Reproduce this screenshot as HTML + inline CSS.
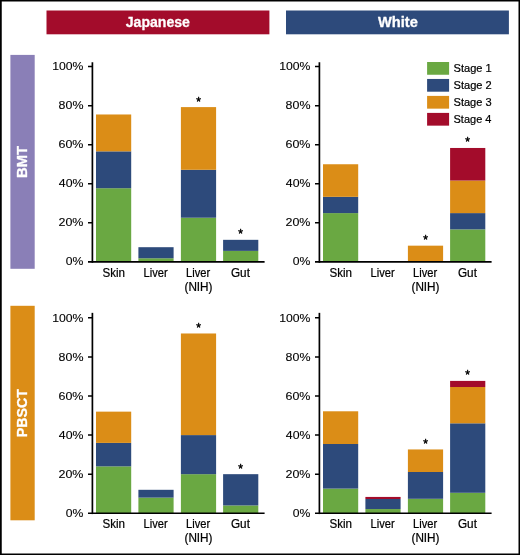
<!DOCTYPE html>
<html lang="en"><head><meta charset="utf-8"><title>Figure</title>
<style>
html,body{margin:0;padding:0;background:#fff;}
body{width:520px;height:555px;overflow:hidden;}
svg{display:block;}
text{font-family:"Liberation Sans",Arial,Helvetica,sans-serif;}
.t{fill:#000;stroke:#000;stroke-width:0.22px;stroke-linejoin:round;}
.k{fill:#000;stroke:#000;stroke-width:0.1px;stroke-linejoin:round;}
.s{fill:#000;stroke:#000;stroke-width:0.45px;stroke-linejoin:round;}
.h{font-weight:bold;fill:#fff;stroke:#fff;stroke-width:0.3px;stroke-linejoin:round;}
</style></head><body>
<svg width="520" height="555" viewBox="0 0 520 555">
<rect x="0" y="0" width="520" height="555" fill="#fff"/>
<path fill="#000" fill-rule="evenodd" d="M0 0H520V555H0Z M1.75 1.6V553.4H518.5V1.6Z"/>
<rect x="46.5" y="10.5" width="222.9" height="23.8" fill="#A30C2B"/>
<rect x="286" y="10.5" width="222.9" height="23.8" fill="#2D4A7B"/>
<text class="h" font-size="14.6" transform="translate(125.79 27.3) scale(0.9646 1)">Japanese</text>
<text class="h" font-size="14.6" transform="translate(377.99 27.3) scale(1.0018 1)">White</text>
<rect x="10.4" y="54.9" width="24.3" height="213.9" fill="#8A7FB7"/>
<rect x="10.4" y="305.8" width="24.3" height="214.5" fill="#DB8D17"/>
<text class="h" font-size="14.6" transform="translate(27.1 177.98) rotate(-90) scale(1.0159 1)">BMT</text>
<text class="h" font-size="14.6" transform="translate(27.1 437.34) rotate(-90) scale(0.9758 1)">PBSCT</text>
<g>
<rect x="96" y="188.21" width="35.2" height="73.74" fill="#6AA842"/>
<rect x="96" y="151.35" width="35.2" height="36.87" fill="#2D4A7B"/>
<rect x="96" y="114.48" width="35.2" height="36.87" fill="#DB8D17"/>
<rect x="138.4" y="258.26" width="35.2" height="3.69" fill="#6AA842"/>
<rect x="138.4" y="247.2" width="35.2" height="11.06" fill="#2D4A7B"/>
<rect x="180.9" y="217.71" width="35.2" height="44.24" fill="#6AA842"/>
<rect x="180.9" y="169.78" width="35.2" height="47.93" fill="#2D4A7B"/>
<rect x="180.9" y="107.1" width="35.2" height="62.68" fill="#DB8D17"/>
<text class="s" font-size="12" x="196.16" y="105.55">*</text>
<rect x="223.1" y="250.89" width="35.2" height="11.06" fill="#6AA842"/>
<rect x="223.1" y="239.83" width="35.2" height="11.06" fill="#2D4A7B"/>
<text class="s" font-size="12" x="238.36" y="238.28">*</text>
<path fill="none" stroke="#000" stroke-width="1.7" d="M92.4 62.25V262.8"/>
<path fill="none" stroke="#000" stroke-width="1.7" d="M88 261.95H264.6"/>
<path fill="none" stroke="#000" stroke-width="1.5" d="M88 222.87H92.4 M88 183.79H92.4 M88 144.71H92.4 M88 105.63H92.4 M88 66.55H92.4"/>
<text class="k" font-size="10.3" transform="translate(65.82 265.4) scale(1.1826 1)">0%</text>
<text class="k" font-size="10.3" transform="translate(58.48 226.32) scale(1.2111 1)">20%</text>
<text class="k" font-size="10.3" transform="translate(58.83 187.24) scale(1.1936 1)">40%</text>
<text class="k" font-size="10.3" transform="translate(58.48 148.16) scale(1.2111 1)">60%</text>
<text class="k" font-size="10.3" transform="translate(58.57 109.08) scale(1.2067 1)">80%</text>
<text class="k" font-size="10.3" transform="translate(52.27 70) scale(1.1828 1)">100%</text>
<text class="t" font-size="11.9" transform="translate(102.43 277.15) scale(0.9749 1)">Skin</text>
<text class="t" font-size="11.9" transform="translate(143.59 277.15) scale(0.9342 1)">Liver</text>
<text class="t" font-size="11.9" transform="translate(186.09 277.15) scale(0.9342 1)">Liver</text>
<text class="t" font-size="11.9" transform="translate(184.47 290.75) scale(0.9873 1)">(NIH)</text>
<text class="t" font-size="11.9" transform="translate(230.96 277.15) scale(0.9889 1)">Gut</text>
</g>
<g>
<rect x="323" y="213.1" width="35.2" height="48.85" fill="#6AA842"/>
<rect x="323" y="196.82" width="35.2" height="16.28" fill="#2D4A7B"/>
<rect x="323" y="164.25" width="35.2" height="32.57" fill="#DB8D17"/>
<rect x="407.9" y="245.67" width="35.2" height="16.28" fill="#DB8D17"/>
<text class="s" font-size="12" x="423.16" y="244.12">*</text>
<rect x="450.1" y="229.38" width="35.2" height="32.57" fill="#6AA842"/>
<rect x="450.1" y="213.1" width="35.2" height="16.28" fill="#2D4A7B"/>
<rect x="450.1" y="180.53" width="35.2" height="32.57" fill="#DB8D17"/>
<rect x="450.1" y="147.97" width="35.2" height="32.57" fill="#A30C2B"/>
<text class="s" font-size="12" x="465.36" y="146.42">*</text>
<path fill="none" stroke="#000" stroke-width="1.7" d="M319.4 62.25V262.8"/>
<path fill="none" stroke="#000" stroke-width="1.7" d="M315 261.95H491.6"/>
<path fill="none" stroke="#000" stroke-width="1.5" d="M315 222.87H319.4 M315 183.79H319.4 M315 144.71H319.4 M315 105.63H319.4 M315 66.55H319.4"/>
<text class="k" font-size="10.3" transform="translate(292.82 265.4) scale(1.1826 1)">0%</text>
<text class="k" font-size="10.3" transform="translate(285.48 226.32) scale(1.2111 1)">20%</text>
<text class="k" font-size="10.3" transform="translate(285.83 187.24) scale(1.1936 1)">40%</text>
<text class="k" font-size="10.3" transform="translate(285.48 148.16) scale(1.2111 1)">60%</text>
<text class="k" font-size="10.3" transform="translate(285.57 109.08) scale(1.2067 1)">80%</text>
<text class="k" font-size="10.3" transform="translate(279.27 70) scale(1.1828 1)">100%</text>
<text class="t" font-size="11.9" transform="translate(329.43 277.15) scale(0.9749 1)">Skin</text>
<text class="t" font-size="11.9" transform="translate(370.59 277.15) scale(0.9342 1)">Liver</text>
<text class="t" font-size="11.9" transform="translate(413.09 277.15) scale(0.9342 1)">Liver</text>
<text class="t" font-size="11.9" transform="translate(411.47 290.75) scale(0.9873 1)">(NIH)</text>
<text class="t" font-size="11.9" transform="translate(457.96 277.15) scale(0.9889 1)">Gut</text>
</g>
<g>
<rect x="96" y="466.35" width="35.2" height="46.9" fill="#6AA842"/>
<rect x="96" y="442.91" width="35.2" height="23.45" fill="#2D4A7B"/>
<rect x="96" y="411.64" width="35.2" height="31.26" fill="#DB8D17"/>
<rect x="138.4" y="497.62" width="35.2" height="15.63" fill="#6AA842"/>
<rect x="138.4" y="489.8" width="35.2" height="7.82" fill="#2D4A7B"/>
<rect x="180.9" y="474.17" width="35.2" height="39.08" fill="#6AA842"/>
<rect x="180.9" y="435.09" width="35.2" height="39.08" fill="#2D4A7B"/>
<rect x="180.9" y="333.48" width="35.2" height="101.61" fill="#DB8D17"/>
<text class="s" font-size="12" x="196.16" y="331.93">*</text>
<rect x="223.1" y="505.43" width="35.2" height="7.82" fill="#6AA842"/>
<rect x="223.1" y="474.17" width="35.2" height="31.26" fill="#2D4A7B"/>
<text class="s" font-size="12" x="238.36" y="472.62">*</text>
<path fill="none" stroke="#000" stroke-width="1.7" d="M92.4 312.85V514.1"/>
<path fill="none" stroke="#000" stroke-width="1.7" d="M88 513.25H264.6"/>
<path fill="none" stroke="#000" stroke-width="1.5" d="M88 474.17H92.4 M88 435.09H92.4 M88 396.01H92.4 M88 356.93H92.4 M88 317.85H92.4"/>
<text class="k" font-size="10.3" transform="translate(65.82 517.15) scale(1.1826 1)">0%</text>
<text class="k" font-size="10.3" transform="translate(58.48 478.07) scale(1.2111 1)">20%</text>
<text class="k" font-size="10.3" transform="translate(58.83 438.99) scale(1.1936 1)">40%</text>
<text class="k" font-size="10.3" transform="translate(58.48 399.91) scale(1.2111 1)">60%</text>
<text class="k" font-size="10.3" transform="translate(58.57 360.83) scale(1.2067 1)">80%</text>
<text class="k" font-size="10.3" transform="translate(52.27 321.75) scale(1.1828 1)">100%</text>
<text class="t" font-size="11.9" transform="translate(102.43 528.45) scale(0.9749 1)">Skin</text>
<text class="t" font-size="11.9" transform="translate(143.59 528.45) scale(0.9342 1)">Liver</text>
<text class="t" font-size="11.9" transform="translate(186.09 528.45) scale(0.9342 1)">Liver</text>
<text class="t" font-size="11.9" transform="translate(184.47 542.05) scale(0.9873 1)">(NIH)</text>
<text class="t" font-size="11.9" transform="translate(230.96 528.45) scale(0.9889 1)">Gut</text>
</g>
<g>
<rect x="323" y="488.59" width="35.2" height="24.66" fill="#6AA842"/>
<rect x="323" y="444" width="35.2" height="44.59" fill="#2D4A7B"/>
<rect x="323" y="411.29" width="35.2" height="32.71" fill="#DB8D17"/>
<rect x="365.4" y="509.05" width="35.2" height="4.2" fill="#6AA842"/>
<rect x="365.4" y="499.01" width="35.2" height="10.04" fill="#2D4A7B"/>
<rect x="365.4" y="496.93" width="35.2" height="2.07" fill="#A30C2B"/>
<rect x="407.9" y="498.79" width="35.2" height="14.46" fill="#6AA842"/>
<rect x="407.9" y="472" width="35.2" height="26.79" fill="#2D4A7B"/>
<rect x="407.9" y="449.45" width="35.2" height="22.55" fill="#DB8D17"/>
<text class="s" font-size="12" x="423.16" y="447.9">*</text>
<rect x="450.1" y="492.79" width="35.2" height="20.46" fill="#6AA842"/>
<rect x="450.1" y="423.31" width="35.2" height="69.48" fill="#2D4A7B"/>
<rect x="450.1" y="387" width="35.2" height="36.31" fill="#DB8D17"/>
<rect x="450.1" y="380.91" width="35.2" height="6.1" fill="#A30C2B"/>
<text class="s" font-size="12" x="465.36" y="379.36">*</text>
<path fill="none" stroke="#000" stroke-width="1.7" d="M319.4 312.85V514.1"/>
<path fill="none" stroke="#000" stroke-width="1.7" d="M315 513.25H491.6"/>
<path fill="none" stroke="#000" stroke-width="1.5" d="M315 474.17H319.4 M315 435.09H319.4 M315 396.01H319.4 M315 356.93H319.4 M315 317.85H319.4"/>
<text class="k" font-size="10.3" transform="translate(292.82 517.15) scale(1.1826 1)">0%</text>
<text class="k" font-size="10.3" transform="translate(285.48 478.07) scale(1.2111 1)">20%</text>
<text class="k" font-size="10.3" transform="translate(285.83 438.99) scale(1.1936 1)">40%</text>
<text class="k" font-size="10.3" transform="translate(285.48 399.91) scale(1.2111 1)">60%</text>
<text class="k" font-size="10.3" transform="translate(285.57 360.83) scale(1.2067 1)">80%</text>
<text class="k" font-size="10.3" transform="translate(279.27 321.75) scale(1.1828 1)">100%</text>
<text class="t" font-size="11.9" transform="translate(329.43 528.45) scale(0.9749 1)">Skin</text>
<text class="t" font-size="11.9" transform="translate(370.59 528.45) scale(0.9342 1)">Liver</text>
<text class="t" font-size="11.9" transform="translate(413.09 528.45) scale(0.9342 1)">Liver</text>
<text class="t" font-size="11.9" transform="translate(411.47 542.05) scale(0.9873 1)">(NIH)</text>
<text class="t" font-size="11.9" transform="translate(457.96 528.45) scale(0.9889 1)">Gut</text>
</g>
<rect x="427.1" y="62" width="22" height="12.75" fill="#6AA842"/>
<text class="t" font-size="11.3" transform="translate(453.5 71.7) scale(0.9815 1)">Stage 1</text>
<rect x="427.1" y="78.95" width="22" height="12.75" fill="#2D4A7B"/>
<text class="t" font-size="11.3" transform="translate(453.5 88.65) scale(0.9821 1)">Stage 2</text>
<rect x="427.1" y="95.9" width="22" height="12.75" fill="#DB8D17"/>
<text class="t" font-size="11.3" transform="translate(453.5 105.6) scale(0.9801 1)">Stage 3</text>
<rect x="427.1" y="112.9" width="22" height="12.75" fill="#A30C2B"/>
<text class="t" font-size="11.3" transform="translate(453.5 122.6) scale(0.9760 1)">Stage 4</text>
</svg>
</body></html>
